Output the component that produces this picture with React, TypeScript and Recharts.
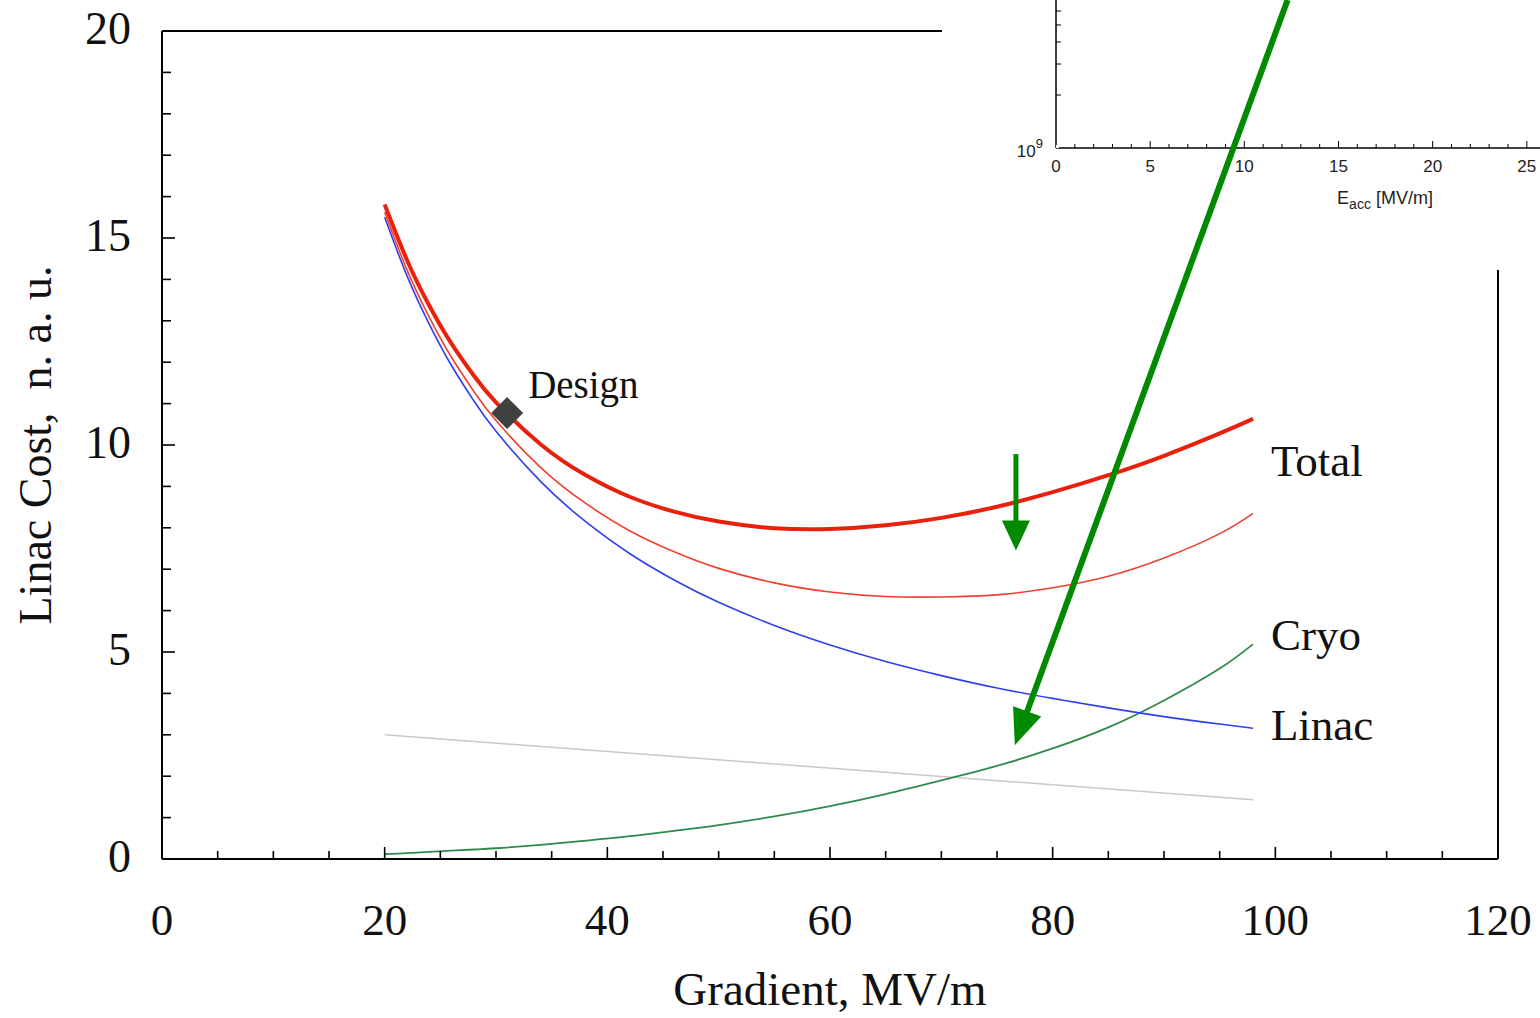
import React from 'react';
import { LineChart, Line, XAxis, YAxis, ReferenceLine, ReferenceDot } from 'recharts';

const SERIF = "'Liberation Serif', 'Times New Roman', Times, serif";
const SANS = "'Liberation Sans', Arial, Helvetica, sans-serif";

// ---- main chart data ----
const gradient = [20, 22, 24, 26, 28, 30, 34, 38, 42, 46, 50, 55, 60, 65, 70, 75, 80, 85, 90, 95, 98];
const totalCost = [15.81, 14.47, 13.37, 12.45, 11.68, 11.03, 10.02, 9.28, 8.75, 8.39, 8.15, 7.99, 7.97, 8.06, 8.24, 8.51, 8.86, 9.27, 9.74, 10.28, 10.63];
const reducedTotal = [15.62, 14.23, 13.09, 12.12, 11.3, 10.59, 9.46, 8.6, 7.93, 7.42, 7.02, 6.67, 6.45, 6.34, 6.33, 6.38, 6.55, 6.83, 7.27, 7.86, 8.35];
const linacCost = [15.5, 14.09, 12.92, 11.92, 11.07, 10.33, 9.12, 8.16, 7.38, 6.74, 6.2, 5.64, 5.17, 4.77, 4.43, 4.13, 3.88, 3.65, 3.44, 3.26, 3.16];
const cryoCost = [0.12, 0.14, 0.17, 0.2, 0.23, 0.26, 0.34, 0.44, 0.55, 0.68, 0.82, 1.03, 1.28, 1.57, 1.9, 2.25, 2.67, 3.18, 3.83, 4.6, 5.19];
const baseGradient = [20, 98];
const baseCost = [3.0, 1.43];

const xTicks = [0, 5, 10, 15, 20, 25, 30, 35, 40, 45, 50, 55, 60, 65, 70, 75, 80, 85, 90, 95, 100, 105, 110, 115, 120];
const xTickLabels = [0, 20, 40, 60, 80, 100, 120];
const yTicks = [0, 1, 2, 3, 4, 5, 6, 7, 8, 9, 10, 11, 12, 13, 14, 15, 16, 17, 18, 19, 20];
const yTickLabels = [0, 5, 10, 15, 20];

// annotations
const designPoint = { g: 31, cost: 10.77, text: 'Design' };
const curveLabels = [
  { text: 'Total', g: 99.6, cost: 9.25 },
  { text: 'Cryo', g: 99.6, cost: 5.05 },
  { text: 'Linac', g: 99.6, cost: 2.87 },
];
const bigArrow = [{ x: 101.1, y: 20.75 }, { x: 76.6, y: 2.75 }];
const smallArrow = [{ x: 76.7, y: 9.78 }, { x: 76.7, y: 7.45 }];
const frameTop = [{ x: 0, y: 20 }, { x: 70.06, y: 20 }];
const frameRight = [{ x: 120, y: 0 }, { x: 120, y: 14.23 }];

// ---- inset data ----
const insetXTicks = [0, 1, 2, 3, 4, 5, 6, 7, 8, 9, 10, 11, 12, 13, 14, 15, 16, 17, 18, 19, 20, 21, 22, 23, 24, 25];
const insetXLabels = [0, 5, 10, 15, 20, 25];
const insetYTicks = [1e9, 2e9, 3e9, 4e9, 5e9, 6e9];
const insetData = [{ eacc: 0, q0: 1e9 }];

const rows = gradient.map((g, i) => {
  const bi = baseGradient.indexOf(g);
  return {
    g,
    total: totalCost[i],
    reduced: reducedTotal[i],
    linac: linacCost[i],
    cryo: cryoCost[i],
    base: bi >= 0 ? baseCost[bi] : null,
  };
});

const ARROW = '#008a00';

const arrowShape = (headLen: number, headW: number, width: number) => (props: any) => {
  const { x1, y1, x2, y2 } = props;
  const dx = x2 - x1;
  const dy = y2 - y1;
  const L = Math.hypot(dx, dy) || 1;
  const ux = dx / L;
  const uy = dy / L;
  const bx = x2 - ux * headLen;
  const by = y2 - uy * headLen;
  const px = -uy;
  const py = ux;
  return (
    <g>
      <line x1={x1} y1={y1} x2={bx + ux * 2} y2={by + uy * 2} stroke={ARROW} strokeWidth={width} />
      <polygon
        points={`${x2},${y2} ${bx + (px * headW) / 2},${by + (py * headW) / 2} ${bx - (px * headW) / 2},${by - (py * headW) / 2}`}
        fill={ARROW}
      />
    </g>
  );
};

const frameShape = (props: any) => {
  const { x1, y1, x2, y2 } = props;
  return <line x1={x1} y1={y1} x2={x2} y2={y2} stroke="#000" strokeWidth={2} />;
};

const MainXTick = (props: any) => {
  const { x, y, payload } = props;
  const v = payload.value;
  const major = v % 20 === 0;
  return (
    <g>
      {v > 0 && v < 120 && (
        <line x1={x} x2={x} y1={y} y2={y - (major ? 12 : 8)} stroke="#000" strokeWidth={1.6} />
      )}
      {xTickLabels.includes(v) && (
        <text x={x} y={y + 76} textAnchor="middle" fontFamily={SERIF} fontSize={45} fill="#111">
          {v}
        </text>
      )}
    </g>
  );
};

const MainYTick = (props: any) => {
  const { x, y, payload } = props;
  const v = payload.value;
  const major = v % 5 === 0;
  return (
    <g>
      {v > 0 && (
        <line x1={x} x2={x + (major ? 13 : 9)} y1={y} y2={y} stroke="#000" strokeWidth={1.6} />
      )}
      {yTickLabels.includes(v) && (
        <text x={x - 31} y={y + 13} textAnchor="end" fontFamily={SERIF} fontSize={46} fill="#111">
          {v}
        </text>
      )}
    </g>
  );
};

const InsetXTick = (props: any) => {
  const { x, y, payload } = props;
  const v = payload.value;
  const major = v % 5 === 0;
  return (
    <g>
      {v > 0 && <line x1={x} x2={x} y1={y} y2={y - (major ? 7 : 4)} stroke="#000" strokeWidth={1} />}
      {insetXLabels.includes(v) && (
        <text x={x} y={y + 24} textAnchor="middle" fontFamily={SANS} fontSize={17} fill="#222">
          {v}
        </text>
      )}
    </g>
  );
};

const InsetYTick = (props: any) => {
  const { x, y, payload } = props;
  const v = payload.value;
  return (
    <g>
      {v > 1e9 && <line x1={x} x2={x + 5} y1={y} y2={y} stroke="#000" strokeWidth={1} />}
      {v === 1e9 && (
        <text x={x - 13} y={y + 9} textAnchor="end" fontFamily={SANS} fontSize={17} fill="#222">
          10
          <tspan dy={-9} fontSize={13}>9</tspan>
        </text>
      )}
    </g>
  );
};

const labelShape = (text: string, size: number) => (props: any) => {
  const { cx, cy } = props;
  return (
    <text x={cx} y={cy} fontFamily={SERIF} fontSize={size} fill="#111">
      {text}
    </text>
  );
};

const designShape = (props: any) => {
  const { cx, cy } = props;
  const h = 16;
  return (
    <g>
      <polygon points={`${cx},${cy - h} ${cx + h},${cy} ${cx},${cy + h} ${cx - h},${cy}`} fill="#404040" />
      <text x={cx + 21} y={cy - 15} fontFamily={SERIF} fontSize={39} fill="#111">
        {designPoint.text}
      </text>
    </g>
  );
};

export default function App() {
  return (
    <div style={{ position: 'absolute', left: 0, top: 0, width: 1540, height: 1018, background: '#fff', overflow: 'hidden' }}>
      {/* Inset (cropped) */}
      <div style={{ position: 'absolute', left: 942, top: 0, zIndex: 0 }}>
        <LineChart width={598} height={270} data={insetData} margin={{ top: 0, right: 0, bottom: 72, left: 54 }}>
          <XAxis
            dataKey="eacc"
            type="number"
            domain={[0, 25.7]}
            ticks={insetXTicks}
            interval={0}
            allowDataOverflow
            height={50}
            tickSize={0}
            tickMargin={0}
            tickLine={false}
            axisLine={{ stroke: '#000', strokeWidth: 1.5 }}
            tick={<InsetXTick />}
            label={(p: any) => {
              const vb = p.viewBox || {};
              return (
                <text x={1385 - 942} y={(vb.y ?? 148) + 56} textAnchor="middle" fontFamily={SANS} fontSize={18} fill="#222">
                  E<tspan dy={5} fontSize={14}>acc</tspan>
                  <tspan dy={-5}> [MV/m]</tspan>
                </text>
              );
            }}
          />
          <YAxis
            type="number"
            scale="log"
            domain={[1e9, 6.93e9]}
            ticks={insetYTicks}
            interval={0}
            allowDataOverflow
            width={60}
            tickSize={0}
            tickMargin={0}
            tickLine={false}
            axisLine={{ stroke: '#000', strokeWidth: 1.5 }}
            tick={<InsetYTick />}
          />
          <Line dataKey="q0" stroke="none" dot={false} isAnimationActive={false} />
        </LineChart>
      </div>

      {/* Main chart */}
      <div style={{ position: 'absolute', left: 0, top: 0, zIndex: 1 }}>
        <LineChart width={1540} height={1018} data={rows} margin={{ top: 31, right: 42, bottom: 99, left: 100 }}>
          <XAxis
            dataKey="g"
            type="number"
            domain={[0, 120]}
            ticks={xTicks}
            interval={0}
            height={60}
            tickSize={0}
            tickMargin={0}
            tickLine={false}
            axisLine={{ stroke: '#000', strokeWidth: 2 }}
            tick={<MainXTick />}
            label={(p: any) => {
              const vb = p.viewBox || {};
              const cx = (vb.x ?? 162) + (vb.width ?? 1336) / 2;
              return (
                <text x={cx} y={(vb.y ?? 859) + 146} textAnchor="middle" fontFamily={SERIF} fontSize={47} fill="#111">
                  Gradient, MV/m
                </text>
              );
            }}
          />
          <YAxis
            type="number"
            domain={[0, 20]}
            ticks={yTicks}
            interval={0}
            width={62}
            tickSize={0}
            tickMargin={0}
            tickLine={false}
            axisLine={{ stroke: '#000', strokeWidth: 2 }}
            tick={<MainYTick />}
            label={(p: any) => {
              const vb = p.viewBox || {};
              const cy = (vb.y ?? 31) + (vb.height ?? 828) / 2;
              const bx = 51;
              return (
                <text
                  x={bx}
                  y={cy}
                  transform={`rotate(-90, ${bx}, ${cy})`}
                  textAnchor="middle"
                  fontFamily={SERIF}
                  fontSize={46}
                  fill="#111"
                  style={{ whiteSpace: 'pre' }}
                >
                  {'Linac Cost,  n. a. u.'}
                </text>
              );
            }}
          />
          <ReferenceLine segment={frameTop} ifOverflow="visible" shape={frameShape} />
          <ReferenceLine segment={frameRight} ifOverflow="visible" shape={frameShape} />

          <Line dataKey="base" type="linear" stroke="#c9c9c9" strokeWidth={1.6} dot={false} connectNulls isAnimationActive={false} />
          <Line dataKey="cryo" type="natural" stroke="#2f8a4c" strokeWidth={1.8} dot={false} isAnimationActive={false} />
          <Line dataKey="linac" type="natural" stroke="#2f3ff0" strokeWidth={1.6} dot={false} isAnimationActive={false} />
          <Line dataKey="reduced" type="natural" stroke="#f0402e" strokeWidth={1.6} dot={false} isAnimationActive={false} />
          <Line dataKey="total" type="natural" stroke="#e8200c" strokeWidth={4} dot={false} isAnimationActive={false} />

          <ReferenceDot x={designPoint.g} y={designPoint.cost} r={0} shape={designShape} ifOverflow="visible" />
          {curveLabels.map((c) => (
            <ReferenceDot key={c.text} x={c.g} y={c.cost} r={0} shape={labelShape(c.text, 45)} ifOverflow="visible" />
          ))}

          <ReferenceLine segment={smallArrow} ifOverflow="visible" shape={arrowShape(30, 28, 5)} />
          <ReferenceLine segment={bigArrow} ifOverflow="visible" shape={arrowShape(36, 30, 6)} />
        </LineChart>
      </div>
    </div>
  );
}
